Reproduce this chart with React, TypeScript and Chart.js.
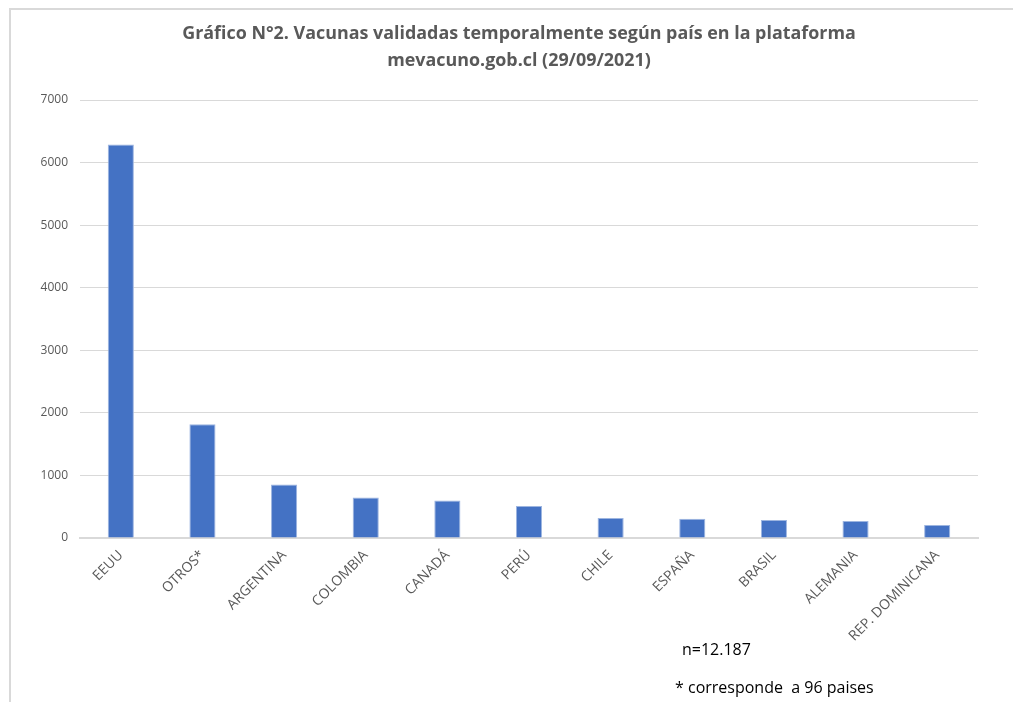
import React, { useEffect, useRef } from "react";
import { Chart, registerables } from "chart.js";

Chart.register(...registerables);

const categories = ["EEUU", "OTROS*", "ARGENTINA", "COLOMBIA", "CANADÁ", "PERÚ", "CHILE", "ESPAÑA", "BRASIL", "ALEMANIA", "REP. DOMINICANA"];
const values = [6290, 1818, 854, 646, 598, 512, 320, 309, 288, 272, 208];
const yMax = 7000;
const yStep = 1000;
const titleLines = ["Gráfico N°2. Vacunas validadas temporalmente según país en la plataforma", "mevacuno.gob.cl (29/09/2021)"];
const noteN = "n=12.187";
const noteOtros = "* corresponde  a 96 paises";

export default function App() {
  const ref = useRef<HTMLCanvasElement | null>(null);
  useEffect(() => {
    if (!ref.current) return;
    const chart = new Chart(ref.current, {
      type: "bar",
      data: {
        labels: categories,
        datasets: [
          {
            data: values,
            backgroundColor: "#4472C4",
            borderColor: "#9db5e0",
            borderWidth: 1,
            categoryPercentage: 1,
            barPercentage: 0.32,
          },
        ],
      },
      options: {
        animation: false,
        responsive: false,
        maintainAspectRatio: false,
        layout: { padding: { left: 0, right: 35, top: 100, bottom: 0 } },
        plugins: { legend: { display: false }, tooltip: { enabled: false }, title: { display: false } },
        scales: {
          x: {
            grid: { display: false },
            border: { color: "#d9d9d9", width: 2 },
            ticks: {
              color: "#595959",
              font: { family: "'Open Sans', 'Noto Sans', sans-serif", size: 14 },
              maxRotation: 45,
              minRotation: 45,
              autoSkip: false,
              padding: 1,
            },
            afterFit: (s: any) => {
              s.height = 164;
            },
          },
          y: {
            min: 0,
            max: yMax,
            grid: { color: "#d9d9d9", lineWidth: 1, drawTicks: false },
            border: { display: false },
            ticks: {
              stepSize: yStep,
              color: "#595959",
              font: { family: "'Open Sans', 'Noto Sans', sans-serif", size: 12 },
              padding: 12,
              callback: (v: any) => String(v),
            },
            afterFit: (s: any) => {
              s.width = 80;
            },
          },
        },
      },
    });
    return () => chart.destroy();
  }, []);

  return (
    <div style={{ position: "absolute", left: 0, top: 0, width: 1013, height: 702, overflow: "hidden", background: "#fff" }}>
      <div style={{ position: "absolute", left: 9, top: 8, right: -5, bottom: -5, borderTop: "2px solid #d9d9d9", borderLeft: "2px solid #d9d9d9" }} />
      <canvas ref={ref} width={1013} height={702} style={{ position: "absolute", left: 0, top: 0, width: 1013, height: 702 }} />
      <div
        style={{
          position: "absolute",
          left: 0,
          width: 1038,
          top: 19,
          textAlign: "center",
          fontFamily: "'Open Sans', sans-serif",
          fontWeight: "bold",
          fontSize: 17.9,
          lineHeight: "27px",
          color: "#595959",
        }}
      >
        <div>{titleLines[0]}</div>
        <div>{titleLines[1]}</div>
      </div>
      <div style={{ position: "absolute", left: 682, top: 638, fontFamily: "'Open Sans', 'Noto Sans', sans-serif", fontSize: 16, color: "#000" }}>{noteN}</div>
      <div style={{ position: "absolute", left: 675, top: 676, fontFamily: "'Open Sans', 'Noto Sans', sans-serif", fontSize: 16, color: "#000", whiteSpace: "pre" }}>{noteOtros}</div>
    </div>
  );
}
